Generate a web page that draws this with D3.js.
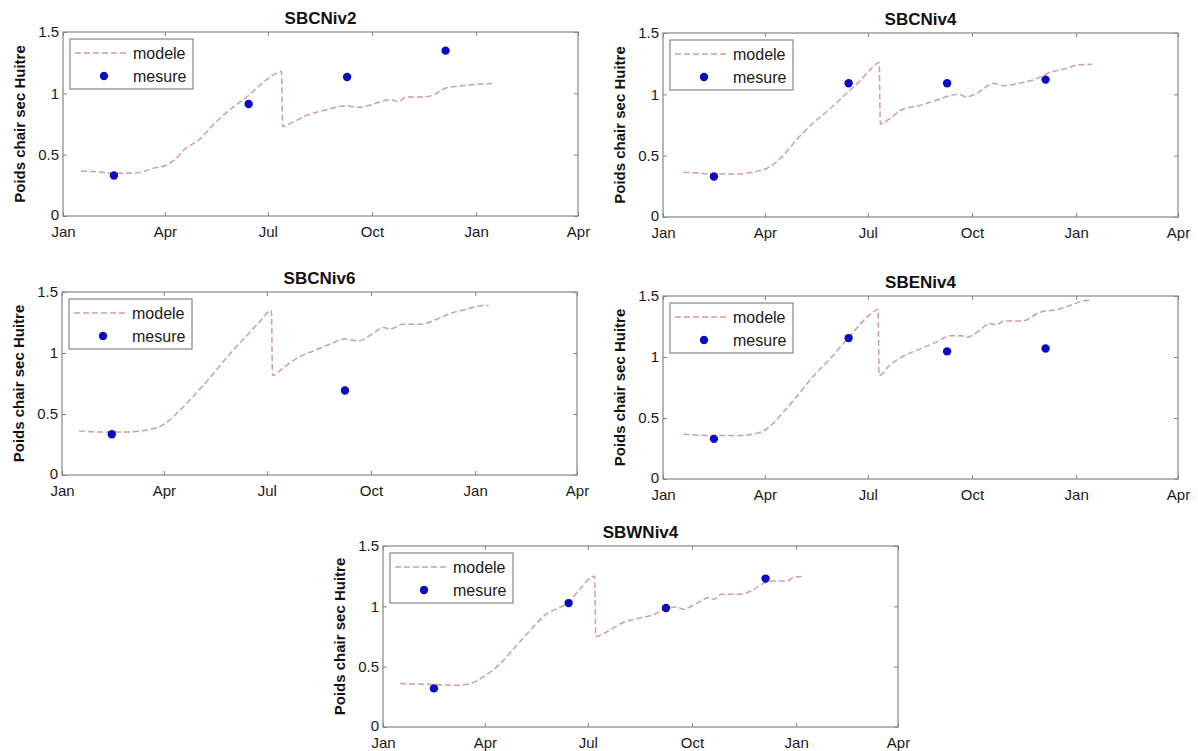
<!DOCTYPE html>
<html><head><meta charset="utf-8">
<script src="https://cdn.jsdelivr.net/npm/d3@7"></script>
<style>body{margin:0;background:#fff}svg{display:block}</style>
</head><body>
<svg id="c" width="1198" height="751"></svg>
<script>
// ---------- data ----------
const titles = ["SBCNiv2", "SBCNiv4", "SBCNiv6", "SBENiv4", "SBWNiv4"];
const xTickLabels = ["Jan", "Apr", "Jul", "Oct", "Jan", "Apr"];
const xTickMonths = [0, 3, 6, 9, 12, 15];
const yTicks = [0, 0.5, 1, 1.5];
const yLabel = "Poids chair sec Huitre";
const legendLabels = ["modele", "mesure"];

// model curves: day offset from Jan 1, value
const modelDays1 = [16,30,46,59,70,80,90,100,107,120,134,147,161,171,181,190,193,194,201,215,232,249,262,276,290,296,303,317,327,337,351,368,379];
const modelVals1 = [0.367,0.36,0.348,0.348,0.36,0.39,0.41,0.47,0.54,0.62,0.755,0.864,0.96,1.04,1.12,1.17,1.18,0.73,0.755,0.82,0.864,0.897,0.886,0.918,0.95,0.93,0.97,0.97,0.985,1.04,1.06,1.076,1.08];
const modelDays2 = [18,30,44,64,85,92,105,119,132,146,159,173,183,191,192,200,210,227,241,254,261,268,281,291,301,315,328,342,356,366,379];
const modelVals2 = [0.364,0.36,0.35,0.35,0.378,0.397,0.49,0.64,0.76,0.87,0.98,1.10,1.20,1.26,0.76,0.80,0.87,0.91,0.95,0.99,1.0,0.98,1.03,1.09,1.07,1.09,1.12,1.18,1.21,1.24,1.245];
const modelDays3 = [15,33,57,74,91,104,118,131,148,162,175,185,186,196,209,223,236,250,262,274,284,290,301,318,331,345,358,368,377];
const modelVals3 = [0.361,0.353,0.353,0.367,0.42,0.53,0.666,0.80,0.99,1.13,1.26,1.35,0.815,0.883,0.965,1.02,1.07,1.114,1.10,1.155,1.21,1.196,1.236,1.236,1.277,1.33,1.36,1.386,1.39];
const modelDays4 = [18,44,65,82,92,105,119,132,146,159,173,183,190,191,200,213,227,241,254,264,268,281,288,295,301,318,332,349,362,371,379];
const modelVals4 = [0.367,0.356,0.356,0.372,0.413,0.535,0.685,0.834,0.97,1.106,1.255,1.35,1.39,0.848,0.93,1.01,1.065,1.12,1.174,1.174,1.16,1.228,1.274,1.264,1.296,1.296,1.364,1.39,1.43,1.46,1.465];
const modelDays5 = [15,45,62,76,89,103,116,130,143,157,164,174,187,188,198,211,225,238,250,260,265,279,289,292,299,313,326,338,346,357,363,370];
const modelVals5 = [0.36,0.352,0.345,0.356,0.418,0.52,0.655,0.80,0.927,0.995,1.035,1.144,1.25,0.75,0.79,0.86,0.90,0.927,0.98,0.995,0.976,1.035,1.076,1.057,1.10,1.10,1.13,1.198,1.21,1.21,1.24,1.247];

// measurements
const mesureDays1 = [45,164,251,338];
const mesureVals1 = [0.33,0.913,1.133,1.348];
const mesureDays2 = [45,164,251,338];
const mesureVals2 = [0.33,1.09,1.09,1.12];
const mesureDays3 = [44,250];
const mesureVals3 = [0.334,0.693];
const mesureDays4 = [45,164,251,338];
const mesureVals4 = [0.329,1.155,1.046,1.07];
const mesureDays5 = [45,164,250,338];
const mesureVals5 = [0.32,1.027,0.986,1.23];

const modelDays = [modelDays1, modelDays2, modelDays3, modelDays4, modelDays5];
const modelVals = [modelVals1, modelVals2, modelVals3, modelVals4, modelVals5];
const mesureDays = [mesureDays1, mesureDays2, mesureDays3, mesureDays4, mesureDays5];
const mesureVals = [mesureVals1, mesureVals2, mesureVals3, mesureVals4, mesureVals5];

// ---------- layout ----------
const frames = [[63,32,184],[663,33,184],[62,292,183],[663,296,183],[383,546,181]];
const W = 515;
const lineColor = "#cf9ea0";
const dotColor = "#0c0cbf";
const axisColor = "#858585";
const textColor = "#1a1a1a";
const FONT = "'Liberation Sans', Arial, sans-serif";

const svg = d3.select("#c");
const t0 = new Date(2005, 0, 1);

frames.forEach((f, i) => {
  const [fx, fy, H] = f;
  const g = svg.append("g").attr("transform", `translate(${fx},${fy})`);
  const x = d3.scaleTime().domain([t0, new Date(2005, 15, 1)]).range([0, W]);
  const y = d3.scaleLinear().domain([0, 1.5]).range([H, 0]);
  const tickDates = xTickMonths.map(m => new Date(2005, m, 1));

  // box
  g.append("rect").attr("x", 0).attr("y", 0).attr("width", W).attr("height", H)
    .attr("fill", "white").attr("stroke", axisColor).attr("stroke-width", 1.2);

  // axes with inward ticks
  const xb = d3.axisBottom(x).tickValues(tickDates).tickSize(-4).tickPadding(10)
    .tickFormat((d, k) => xTickLabels[k]);
  const gx = g.append("g").attr("transform", `translate(0,${H})`).call(xb);
  const gxt = g.append("g").call(d3.axisTop(x).tickValues(tickDates).tickSize(-4).tickFormat(""));
  const yl = d3.axisLeft(y).tickValues(yTicks).tickSize(-4).tickPadding(5).tickFormat(d3.format("~g"));
  const gy = g.append("g").call(yl);
  const gyr = g.append("g").attr("transform", `translate(${W},0)`)
    .call(d3.axisRight(y).tickValues(yTicks).tickSize(-4).tickFormat(""));
  [gx, gxt, gy, gyr].forEach(a => {
    a.select(".domain").remove();
    a.selectAll(".tick line").attr("stroke", axisColor);
    a.selectAll("text").attr("font-family", FONT).attr("font-size", 15).attr("fill", textColor);
  });
  gx.selectAll("text").attr("dy", "0.72em");
  gy.selectAll("text").attr("dx", "1px").attr("dy", d => d === 0 ? "0.22em" : "0.32em");

  // model line
  const pts = modelDays[i].map((d, k) => [d3.timeDay.offset(t0, d), modelVals[i][k]]);
  const line = d3.line().x(d => x(d[0])).y(d => y(d[1])).curve(d3.curveMonotoneX);
  g.append("path").datum(pts).attr("d", line).attr("fill", "none")
    .attr("stroke", lineColor).attr("stroke-width", 1.5).attr("stroke-dasharray", "6,3");

  // measures
  const mp = mesureDays[i].map((d, k) => [d3.timeDay.offset(t0, d), mesureVals[i][k]]);
  g.selectAll("circle.m").data(mp).join("circle").attr("class", "m")
    .attr("cx", d => x(d[0])).attr("cy", d => y(d[1])).attr("r", 4.2).attr("fill", dotColor);

  // title
  g.append("text").attr("x", W / 2).attr("y", -8).attr("text-anchor", "middle")
    .attr("font-family", "'Liberation Sans Narrow', 'Arial Narrow', " + FONT)
    .attr("font-weight", "bold").attr("font-size", 17).attr("fill", "#111").text(titles[i]);

  // y label
  g.append("text").attr("transform", `translate(-38,${H / 2}) rotate(-90)`)
    .attr("text-anchor", "middle").attr("font-family", FONT).attr("font-weight", "bold")
    .attr("font-size", 15).attr("fill", "#111").text(yLabel);

  // legend
  const lg = g.append("g").attr("transform", "translate(7,7)");
  lg.append("rect").attr("width", 123).attr("height", 50).attr("fill", "white")
    .attr("stroke", axisColor).attr("stroke-width", 1.2);
  lg.append("line").attr("x1", 5).attr("x2", 57).attr("y1", 14).attr("y2", 14)
    .attr("stroke", lineColor).attr("stroke-width", 1.5).attr("stroke-dasharray", "6,3");
  lg.append("circle").attr("cx", 34).attr("cy", 37).attr("r", 4.2).attr("fill", dotColor);
  lg.selectAll("text.l").data(legendLabels).join("text").attr("class", "l")
    .attr("x", 63).attr("y", (d, k) => 20 + k * 23)
    .attr("font-family", FONT).attr("font-size", 16).attr("fill", textColor).text(d => d);
});
</script>
</body></html>
